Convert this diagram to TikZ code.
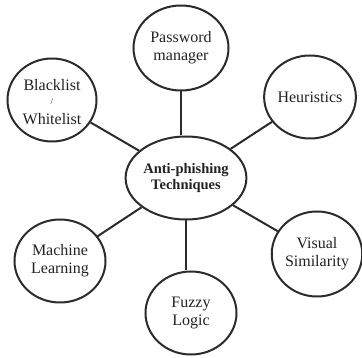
\documentclass[tikz,border=0pt]{standalone}
\usepackage{fontspec}
\setmainfont{Liberation Serif}
\usetikzlibrary{shapes.geometric}
\definecolor{ink}{HTML}{2B2B2B}
\definecolor{txt}{HTML}{222222}
\begin{document}
\begin{tikzpicture}[x=1pt,y=-1pt,
  bubble/.style={ellipse, draw=ink, line width=2pt, inner sep=0pt, align=center,
    text=txt, font=\fontsize{16}{18}\selectfont},
  hub/.style={bubble, font=\bfseries\fontsize{14.5}{16}\selectfont},
  link/.style={draw=ink, line width=2pt}]
\useasboundingbox (0,0) rectangle (362,358);
\node[hub, minimum width=111pt, minimum height=83pt] (c) at (186,178) {Anti-phishing\\Techniques};
\node[bubble, minimum width=95pt, minimum height=85pt] (p) at (181,48) {Password\\manager};
\node[bubble, minimum width=91pt, minimum height=83pt] (h) at (310,97) {Heuristics};
\node[bubble, minimum width=89pt, minimum height=83pt, text height=50pt, text depth=0pt] (b) at (52,100)
  {Blacklist\\[-4pt]{\fontsize{9}{9}\selectfont /}\\[2pt]Whitelist};
\node[bubble, minimum width=91pt, minimum height=83pt] (m) at (60,261) {Machine\\Learning};
\node[bubble, minimum width=91pt, minimum height=83pt] (f) at (191,313) {Fuzzy\\Logic};
\node[bubble, minimum width=89pt, minimum height=85pt] (v) at (317,254) {Visual\\Similarity};
\draw[link] (p.south) -- (p.south |- c.north);
\draw[link] (c.south) -- (c.south |- f.north);
\draw[link] (b) -- (c);
\draw[link] (h) -- (c);
\draw[link] (m) -- (c);
\draw[link] (v) -- (c);
\end{tikzpicture}
\end{document}
